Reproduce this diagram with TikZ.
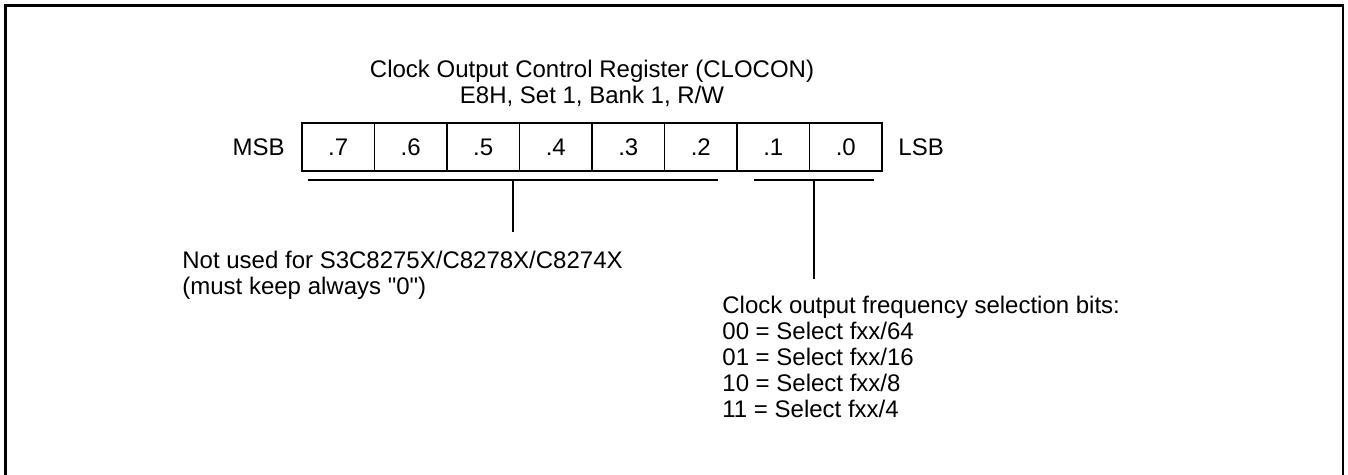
\documentclass[tikz,border=0pt]{standalone}
\usepackage{fontspec}
\setmainfont{Liberation Sans}[Ligatures=TeXOff]
\usepackage{tikz}
\usetikzlibrary{positioning,calc}

\begin{document}
\begin{tikzpicture}[
    x=0.5pt, y=-0.5pt,
    font=\fontsize{12}{13}\selectfont,
    cell/.style={draw, line width=0.75pt, inner sep=0pt, outer sep=0pt, minimum width=36.25pt, minimum height=24pt},
    note/.style={align=left, inner sep=0pt},
    rule/.style={line width=0.75pt},
    frame/.style={line width=1.2pt}
]
\useasboundingbox (0,0) rectangle (1348,475);
\draw[frame] (5.5,490) |- (1343,5.7) -- (1343,490);

\node[cell] (b7) at (338.25,147) {.7};
\node[cell, right=0pt of b7] (b6) {.6};
\node[cell, right=0pt of b6] (b5) {.5};
\node[cell, right=0pt of b5] (b4) {.4};
\node[cell, right=0pt of b4] (b3) {.3};
\node[cell, right=0pt of b3] (b2) {.2};
\node[cell, right=0pt of b2] (b1) {.1};
\node[cell, right=0pt of b1] (b0) {.0};

\node[inner sep=0pt, left=8.5pt of b7] (msb) {MSB};
\node[inner sep=0pt, right=8pt of b0] (lsb) {LSB};
\node[align=center, inner sep=0pt, above=8pt of b4.north east] (title) {Clock Output Control Register (CLOCON)\\E8H, Set 1, Bank 1, R/W};

% bit groups
\coordinate (la) at ($(b7.south west)+(6,9)$);
\coordinate (lb) at ($(b2.south east)+(-19,9)$);
\coordinate (lm) at ($(la)!0.5!(lb)$);
\coordinate (le) at ($(lm)+(0,52)$);
\coordinate (ra) at ($(b1.south west)+(17,9)$);
\coordinate (rb) at ($(b0.south east)+(-8,9)$);
\coordinate (rm) at ($(ra)!0.5!(rb)$);
\coordinate (re) at ($(rm)+(0,99)$);

\draw[rule] (la) -- (lb) (lm) -- (le);
\draw[rule] (ra) -- (rb) (rm) -- (re);

\node[note, anchor=north west] (unused) at (182,251) {Not used for S3C8275X/C8278X/C8274X\\(must keep always "0")};
\node[note, anchor=north west] (freq) at (722,296) {Clock output frequency selection bits:\\00 = Select fxx/64\\01 = Select fxx/16\\10 = Select fxx/8\\11 = Select fxx/4};
\end{tikzpicture}
\end{document}
